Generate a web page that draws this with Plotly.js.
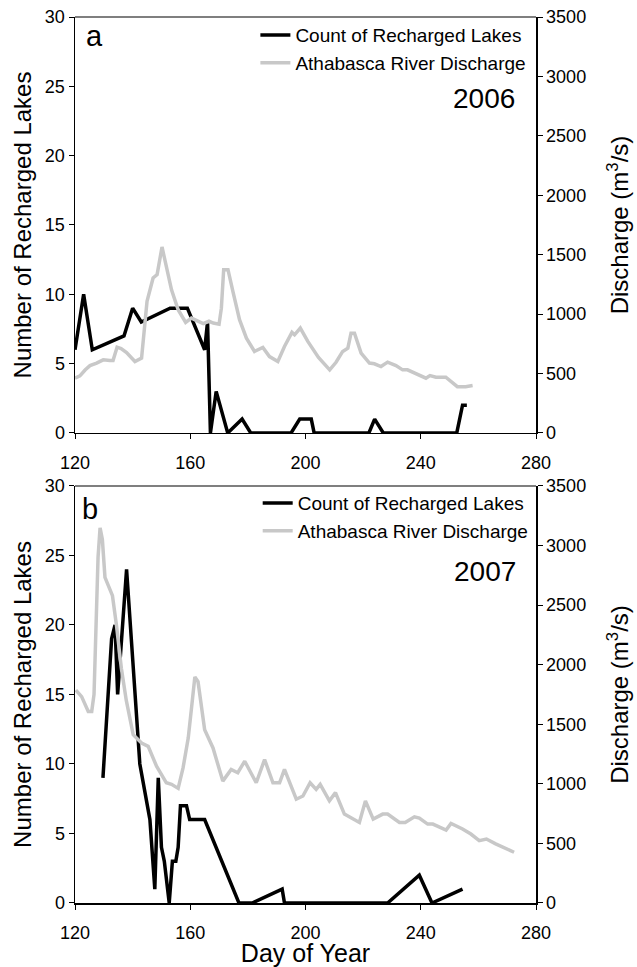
<!DOCTYPE html>
<html>
<head>
<meta charset="utf-8">
<script src="https://cdn.plot.ly/plotly-3.0.1.min.js"></script>
<style>html,body{margin:0;padding:0;background:#fff;}#chart{width:637px;height:967px;}</style>
</head>
<body>
<div id="chart"></div>
<script>
// ---- 2006 (panel a) ----
const day06Count = [120,123,126,137,140,143,153,159,165,166,167,169,173,178,181,195,198,202,203,222,224,227,252.5,254.5,256];
const count06 = [6,10,6,7,9,8,9,9,6,8,0,3,0,1,0,0,1,1,0,0,1,0,0,2,2];

const day06Q = [120,121.7,123.5,125.2,127.5,129.8,132.1,133.2,134.6,136,137.9,140.8,143.1,145,147.1,148.5,150.2,151.8,153.5,155.8,158.4,160.4,162,164.5,166.5,168,170,170.8,171.6,173.1,174.8,177.1,179.5,182.3,185.2,187.5,190.4,192.7,195.3,196.2,198.2,200.8,204.5,208.4,210.6,212.9,214.7,215.8,217,219.3,222.2,223.9,226.2,228.5,231.4,233.7,235.4,238.3,241.8,243.2,245.3,248.7,250.5,252.7,255.6,258];
const q06 = [461,480,530,567,588,615,609,610,722,710,677,601,630,1107,1304,1332,1565,1390,1205,1037,930,967,950,920,940,925,915,1050,1374,1374,1191,953,798,686,719,643,601,728,846,826,883,770,636,531,595,686,714,840,840,672,588,582,559,596,567,531,531,497,461,483,469,469,433,390,390,399];

// ---- 2007 (panel b) ----
const day07Count = [129.7,132.7,133.9,134.8,137.9,142.5,146,147.7,148.9,150,151,152.7,153.8,155,155.8,156.6,158.7,159.8,165,176.9,181.5,191.9,192.7,228.5,239.5,243.9,254.5];
const count07 = [9,19,20,15,24,10,6,1,9,4,3,0,3,3,4,7,7,6,6,0,0,1,0,0,2,0,1];

const day07Q = [120.3,122.3,124.6,125.8,126.6,127.3,128,128.7,129.5,130.4,132.1,133,134.4,136.1,137.8,140.2,143.1,145.4,148.3,151.7,153.5,155.8,157.5,159.3,160.5,161.6,162.7,165,167.9,171.3,174.2,176.5,178.9,182.9,185.8,188.7,191,192.7,196.8,199.1,201.6,203.7,205.1,208.3,210.4,213.5,218.7,220.8,223.5,226.8,228.5,232.6,234.6,237.8,239.5,242.4,244.2,248.8,250.5,254.5,257.4,260.3,262.8,266,272.4];
const q07 = [1787,1732,1607,1607,1750,2300,2900,3148,3050,2732,2621,2579,2329,1968,1700,1412,1342,1315,1148,1009,996,962,1134,1384,1650,1898,1857,1454,1301,1023,1121,1093,1190,1009,1204,1009,1009,1121,871,898,1009,954,996,857,926,746,676,857,704,746,746,676,676,723,712,662,662,612,667,621,579,523,537,496,426];

const xTicks = [120,160,200,240,280];
const countName = 'Count of Recharged Lakes';
const qName = 'Athabasca River Discharge';

const FONT = 'Liberation Sans, Arial, Helvetica, sans-serif';
const GRAY = '#c8c8c8';

const traces = [
  {x: day06Q, y: q06, xaxis:'x', yaxis:'y2', type:'scatter', mode:'lines', name:qName,
   line:{color:GRAY, width:3.5}, legend:'legend', legendrank:2},
  {x: day06Count, y: count06, xaxis:'x', yaxis:'y', type:'scatter', mode:'lines', name:countName,
   line:{color:'#000', width:3.5}, legend:'legend', legendrank:1},
  {x: day07Q, y: q07, xaxis:'x2', yaxis:'y4', type:'scatter', mode:'lines', name:qName,
   line:{color:GRAY, width:3.5}, legend:'legend2', legendrank:2},
  {x: day07Count, y: count07, xaxis:'x2', yaxis:'y3', type:'scatter', mode:'lines', name:countName,
   line:{color:'#000', width:3.5}, legend:'legend2', legendrank:1}
];

const tickFont = {family:FONT, size:18, color:'#000'};
function xax(anchor){
  return {anchor:anchor, domain:[0,1], range:[120,280], tickvals:xTicks, ticks:'outside', ticklen:5,
    tickcolor:'#000', showline:true, linecolor:'#000', linewidth:1.5, showgrid:false, zeroline:false,
    tickfont:tickFont, ticklabelstandoff:8};
}
function yl(domain){
  return {domain:domain, range:[0,30], tickvals:[0,5,10,15,20,25,30], ticks:'outside', ticklen:5,
    tickcolor:'#000', showline:true, linecolor:'#000', linewidth:1.5, showgrid:false, zeroline:false,
    tickfont:tickFont, anchor:'x',
    title:{text:'Number of Recharged Lakes', font:{family:FONT, size:24, color:'#000'}, standoff:6}};
}
function yr(over, anchor){
  return {overlaying:over, side:'right', anchor:anchor, range:[0,3500], tickvals:[0,500,1000,1500,2000,2500,3000,3500],
    ticks:'outside', ticklen:5, tickcolor:'#000', showline:true, linecolor:'#000', linewidth:1.5,
    showgrid:false, zeroline:false, tickfont:tickFont,
    title:{text:'Discharge (m<sup>3</sup>/s)', font:{family:FONT, size:24, color:'#000'}, standoff:26}};
}

const topDom = [0.5305, 1];
const botDom = [0, 0.4707];

const layout = {
  width:637, height:967,
  margin:{l:75, r:101, t:17, b:64},
  paper_bgcolor:'#fff', plot_bgcolor:'#fff',
  font:{family:FONT, color:'#000'},
  showlegend:true,
  xaxis: xax('y'),
  xaxis2: Object.assign(xax('y3'), {title:{text:'Day of Year', font:{family:FONT, size:25, color:'#000'}, standoff:6}}),
  yaxis: Object.assign(yl(topDom), {anchor:'x'}),
  yaxis2: yr('y','x'),
  yaxis3: Object.assign(yl(botDom), {anchor:'x2'}),
  yaxis4: yr('y3','x2'),
  legend:{x:0.99, xanchor:'right', y:1.001, yanchor:'top', bgcolor:'rgba(0,0,0,0)',
    font:{family:FONT, size:19, color:'#000'}, itemwidth:30, tracegroupgap:0},
  legend2:{x:0.995, xanchor:'right', y:0.4728, yanchor:'top', bgcolor:'rgba(0,0,0,0)',
    font:{family:FONT, size:19, color:'#000'}, itemwidth:30, tracegroupgap:0},
  shapes:[
    {type:'line', xref:'paper', yref:'paper', x0:0, x1:1, y0:1, y1:1, line:{color:'#555', width:1.5}},
    {type:'line', xref:'paper', yref:'paper', x0:0, x1:1, y0:botDom[1], y1:botDom[1], line:{color:'#555', width:1.5}}
  ],
  annotations:[
    {text:'a', xref:'paper', yref:'paper', x:0.02, y:0.979, xanchor:'left', yanchor:'middle', showarrow:false, font:{family:FONT, size:29, color:'#000'}},
    {text:'b', xref:'paper', yref:'paper', x:0.01, y:0.445, xanchor:'left', yanchor:'middle', showarrow:false, font:{family:FONT, size:29, color:'#000'}},
    {text:'2006', xref:'paper', yref:'paper', x:0.959, y:0.908, xanchor:'right', yanchor:'middle', showarrow:false, font:{family:FONT, size:28, color:'#000'}},
    {text:'2007', xref:'paper', yref:'paper', x:0.961, y:0.374, xanchor:'right', yanchor:'middle', showarrow:false, font:{family:FONT, size:28, color:'#000'}}
  ]
};

Plotly.newPlot('chart', traces, layout, {displayModeBar:false, staticPlot:true});
</script>
</body>
</html>
